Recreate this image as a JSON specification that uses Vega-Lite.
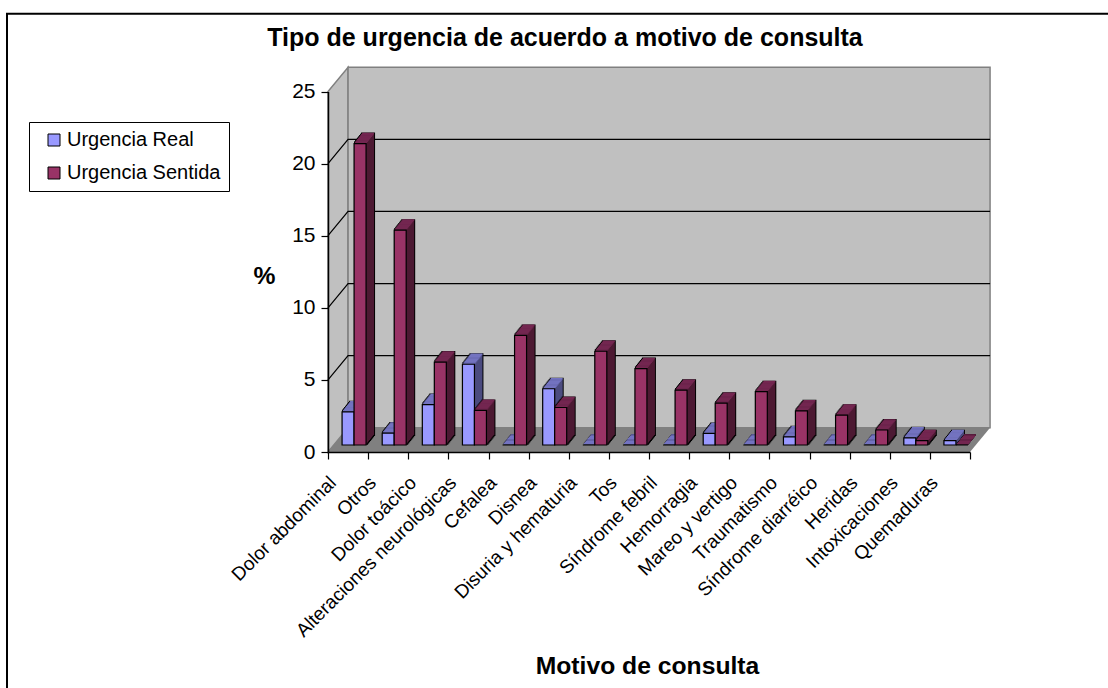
{"$schema":"https://vega.github.io/schema/vega-lite/v6.json","width":662,"height":384,"autosize":{"type":"none"},"padding":{"left":328,"top":68,"right":118,"bottom":236},"background":"white","config":{"font":"Liberation Sans","view":{"stroke":null},"axis":{"grid":false}},"title":{"text":"Tipo de urgencia de acuerdo a motivo de consulta","fontSize":25,"fontWeight":"bold","font":"Liberation Sans","color":"black","anchor":"middle","frame":"group","dx":-94,"dy":62,"offset":24},"datasets":{"wall":[{"part":"side","x":0,"y":0,"y2":25},{"part":"side","x":0.5,"y":1.68,"y2":26.68},{"part":"back","x":0.5,"y":1.68,"y2":26.68},{"part":"back","x":16.5,"y":1.68,"y2":26.68},{"part":"floor","x":0,"y":0,"y2":0},{"part":"floor","x":0.5,"y":0,"y2":1.68},{"part":"floor","x":16,"y":0,"y2":1.68},{"part":"floor","x":16.5,"y":1.68,"y2":1.68}],"grid":[{"g":5,"x":0,"y":5},{"g":5,"x":0.5,"y":6.68},{"g":5,"x":16.5,"y":6.68},{"g":10,"x":0,"y":10},{"g":10,"x":0.5,"y":11.68},{"g":10,"x":16.5,"y":11.68},{"g":15,"x":0,"y":15},{"g":15,"x":0.5,"y":16.68},{"g":15,"x":16.5,"y":16.68},{"g":20,"x":0,"y":20},{"g":20,"x":0.5,"y":21.68},{"g":20,"x":16.5,"y":21.68}],"bars":[{"motivo":"Dolor abdominal","serie":"Urgencia Real","v":2.3},{"motivo":"Dolor abdominal","serie":"Urgencia Sentida","v":20.9},{"motivo":"Otros","serie":"Urgencia Real","v":0.83},{"motivo":"Otros","serie":"Urgencia Sentida","v":14.9},{"motivo":"Dolor toácico","serie":"Urgencia Real","v":2.8},{"motivo":"Dolor toácico","serie":"Urgencia Sentida","v":5.75},{"motivo":"Alteraciones neurológicas","serie":"Urgencia Real","v":5.6},{"motivo":"Alteraciones neurológicas","serie":"Urgencia Sentida","v":2.4},{"motivo":"Cefalea","serie":"Urgencia Real","v":0},{"motivo":"Cefalea","serie":"Urgencia Sentida","v":7.6},{"motivo":"Disnea","serie":"Urgencia Real","v":3.9},{"motivo":"Disnea","serie":"Urgencia Sentida","v":2.6},{"motivo":"Disuria y hematuria","serie":"Urgencia Real","v":0},{"motivo":"Disuria y hematuria","serie":"Urgencia Sentida","v":6.5},{"motivo":"Tos","serie":"Urgencia Real","v":0},{"motivo":"Tos","serie":"Urgencia Sentida","v":5.3},{"motivo":"Síndrome febril","serie":"Urgencia Real","v":0},{"motivo":"Síndrome febril","serie":"Urgencia Sentida","v":3.8},{"motivo":"Hemorragia","serie":"Urgencia Real","v":0.8},{"motivo":"Hemorragia","serie":"Urgencia Sentida","v":2.9},{"motivo":"Mareo y vertigo","serie":"Urgencia Real","v":0},{"motivo":"Mareo y vertigo","serie":"Urgencia Sentida","v":3.7},{"motivo":"Traumatismo","serie":"Urgencia Real","v":0.57},{"motivo":"Traumatismo","serie":"Urgencia Sentida","v":2.37},{"motivo":"Síndrome diarréico","serie":"Urgencia Real","v":0},{"motivo":"Síndrome diarréico","serie":"Urgencia Sentida","v":2.07},{"motivo":"Heridas","serie":"Urgencia Real","v":0},{"motivo":"Heridas","serie":"Urgencia Sentida","v":1.04},{"motivo":"Intoxicaciones","serie":"Urgencia Real","v":0.5},{"motivo":"Intoxicaciones","serie":"Urgencia Sentida","v":0.3},{"motivo":"Quemaduras","serie":"Urgencia Real","v":0.3},{"motivo":"Quemaduras","serie":"Urgencia Sentida","v":0}]},"resolve":{"scale":{"x":"independent"},"axis":{"x":"independent"}},"layer":[
{"data":{"values":[{}]},"mark":{"type":"rect","fill":"white","stroke":"black","strokeWidth":2,"clip":false},"encoding":{"x":{"datum":-8,"type":"quantitative","scale":{"domain":[0,16],"range":[0,642]},"axis":null},"x2":{"datum":25},"y":{"datum":30.4,"type":"quantitative","scale":{"domain":[0,25],"range":[384,23.5]}},"y2":{"datum":-20}}},
{"data":{"name":"wall"},"transform":[{"filter":"datum.part==='side'"}],"mark":{"type":"area","fill":"#C0C0C0","stroke":"#808080","strokeWidth":1.5,"clip":false},"encoding":{"x":{"field":"x","type":"quantitative","scale":{"domain":[0,16],"range":[0,642]},"axis":null},"y":{"field":"y","type":"quantitative","scale":{"domain":[0,25],"range":[384,23.5]}},"y2":{"field":"y2"}}},
{"data":{"name":"wall"},"transform":[{"filter":"datum.part==='back'"}],"mark":{"type":"area","fill":"#C0C0C0","stroke":"#808080","strokeWidth":1.5,"clip":false},"encoding":{"x":{"field":"x","type":"quantitative","scale":{"domain":[0,16],"range":[0,642]},"axis":null},"y":{"field":"y","type":"quantitative","scale":{"domain":[0,25],"range":[384,23.5]}},"y2":{"field":"y2"}}},
{"data":{"name":"wall"},"transform":[{"filter":"datum.part==='floor'"}],"mark":{"type":"area","fill":"#808080","clip":false},"encoding":{"x":{"field":"x","type":"quantitative","scale":{"domain":[0,16],"range":[0,642]},"axis":null},"y":{"field":"y","type":"quantitative","scale":{"domain":[0,25],"range":[384,23.5]}},"y2":{"field":"y2"}}},
{"data":{"name":"grid"},"mark":{"type":"line","color":"black","strokeWidth":1.2,"clip":false},"encoding":{"x":{"field":"x","type":"quantitative","scale":{"domain":[0,16],"range":[0,642]},"axis":null},"y":{"field":"y","type":"quantitative","scale":{"domain":[0,25],"range":[384,23.5]}},"detail":{"field":"g"}}},
{"data":{"name":"bars"},"encoding":{"x":{"field":"motivo","type":"nominal","sort":null,"title":"Motivo de consulta","scale":{"range":[0,642],"paddingInner":0,"paddingOuter":0},"axis":{"zindex":1,"tickBand":"extent","labelAngle":-45,"labelAlign":"right","labelBaseline":"top","labelFontSize":19,"labelLimit":400,"labelColor":"black","labelPadding":14,"labelOffset":-22,"tickColor":"black","tickSize":7,"tickWidth":1.2,"domainColor":"black","domainWidth":1.5,"labelOverlap":false,"titleFontSize":24.7,"titleFontWeight":"bold","titleColor":"black","titleX":319,"titleY":221,"titleAlign":"center","titleBaseline":"alphabetic"}},"y":{"field":"v","type":"quantitative","title":"%","scale":{"domain":[0,25],"range":[384,23.5]},"axis":{"zindex":1,"values":[0,5,10,15,20,25],"grid":false,"labelFontSize":21,"labelColor":"black","labelPadding":6,"tickColor":"black","tickSize":7,"tickWidth":1.2,"domainColor":"black","domainWidth":1.5,"titleFontSize":24.7,"titleFontWeight":"bold","titleColor":"black","titleAngle":0,"titleX":-64,"titleY":215,"titleAlign":"center","titleBaseline":"alphabetic"}}},"layer":[
{"transform":[{"filter":"datum.serie==='Urgencia Real'"}],"layer":[
{"mark":{"type":"bar","width":12,"fill":"black","stroke":"black","strokeWidth":2,"xOffset":8,"yOffset":-17}},{"mark":{"type":"bar","width":12,"fill":"black","stroke":"black","strokeWidth":2,"xOffset":7,"yOffset":-15.75}},{"mark":{"type":"bar","width":12,"fill":"black","stroke":"black","strokeWidth":2,"xOffset":6,"yOffset":-14.5}},{"mark":{"type":"bar","width":12,"fill":"black","stroke":"black","strokeWidth":2,"xOffset":5,"yOffset":-13.25}},{"mark":{"type":"bar","width":12,"fill":"black","stroke":"black","strokeWidth":2,"xOffset":4,"yOffset":-12}},{"mark":{"type":"bar","width":12,"fill":"black","stroke":"black","strokeWidth":2,"xOffset":3,"yOffset":-10.75}},{"mark":{"type":"bar","width":12,"fill":"black","stroke":"black","strokeWidth":2,"xOffset":2,"yOffset":-9.5}},{"mark":{"type":"bar","width":12,"fill":"black","stroke":"black","strokeWidth":2,"xOffset":1,"yOffset":-8.25}},
{"mark":{"type":"bar","width":12,"fill":"#4C4C80","xOffset":8,"yOffset":-17}},{"mark":{"type":"bar","width":12,"fill":"#4C4C80","xOffset":7,"yOffset":-15.75}},{"mark":{"type":"bar","width":12,"fill":"#4C4C80","xOffset":6,"yOffset":-14.5}},{"mark":{"type":"bar","width":12,"fill":"#4C4C80","xOffset":5,"yOffset":-13.25}},{"mark":{"type":"bar","width":12,"fill":"#4C4C80","xOffset":4,"yOffset":-12}},{"mark":{"type":"bar","width":12,"fill":"#4C4C80","xOffset":3,"yOffset":-10.75}},{"mark":{"type":"bar","width":12,"fill":"#4C4C80","xOffset":2,"yOffset":-9.5}},{"mark":{"type":"bar","width":12,"fill":"#4C4C80","xOffset":1,"yOffset":-8.25}},
{"mark":{"type":"bar","width":12,"fill":"#7373C0","stroke":"#7373C0","strokeWidth":1.6,"xOffset":8,"yOffset":-17,"y2Offset":-17},"encoding":{"y2":{"field":"v"}}},{"mark":{"type":"bar","width":12,"fill":"#7373C0","stroke":"#7373C0","strokeWidth":1.6,"xOffset":7,"yOffset":-15.75,"y2Offset":-15.75},"encoding":{"y2":{"field":"v"}}},{"mark":{"type":"bar","width":12,"fill":"#7373C0","stroke":"#7373C0","strokeWidth":1.6,"xOffset":6,"yOffset":-14.5,"y2Offset":-14.5},"encoding":{"y2":{"field":"v"}}},{"mark":{"type":"bar","width":12,"fill":"#7373C0","stroke":"#7373C0","strokeWidth":1.6,"xOffset":5,"yOffset":-13.25,"y2Offset":-13.25},"encoding":{"y2":{"field":"v"}}},{"mark":{"type":"bar","width":12,"fill":"#7373C0","stroke":"#7373C0","strokeWidth":1.6,"xOffset":4,"yOffset":-12,"y2Offset":-12},"encoding":{"y2":{"field":"v"}}},{"mark":{"type":"bar","width":12,"fill":"#7373C0","stroke":"#7373C0","strokeWidth":1.6,"xOffset":3,"yOffset":-10.75,"y2Offset":-10.75},"encoding":{"y2":{"field":"v"}}},{"mark":{"type":"bar","width":12,"fill":"#7373C0","stroke":"#7373C0","strokeWidth":1.6,"xOffset":2,"yOffset":-9.5,"y2Offset":-9.5},"encoding":{"y2":{"field":"v"}}},{"mark":{"type":"bar","width":12,"fill":"#7373C0","stroke":"#7373C0","strokeWidth":1.6,"xOffset":1,"yOffset":-8.25,"y2Offset":-8.25},"encoding":{"y2":{"field":"v"}}}
,{"mark":{"type":"bar","width":12,"stroke":"black","strokeWidth":1.2,"xOffset":0,"yOffset":-7},"encoding":{"color":{"field":"serie","type":"nominal","scale":{"domain":["Urgencia Real","Urgencia Sentida"],"range":["#9999FF","#993366"]},"legend":{"title":null,"orient":"none","legendX":-299,"legendY":54,"fillColor":"white","strokeColor":"black","padding":8,"symbolType":"square","symbolSize":144,"symbolStrokeColor":"black","symbolStrokeWidth":1,"symbolOffset":7,"labelFontSize":20,"labelColor":"black","labelOffset":3,"rowPadding":13}}}}
]},
{"transform":[{"filter":"datum.serie==='Urgencia Sentida'"}],"layer":[
{"mark":{"type":"bar","width":12,"fill":"black","stroke":"black","strokeWidth":2,"xOffset":20,"yOffset":-17}},{"mark":{"type":"bar","width":12,"fill":"black","stroke":"black","strokeWidth":2,"xOffset":19,"yOffset":-15.75}},{"mark":{"type":"bar","width":12,"fill":"black","stroke":"black","strokeWidth":2,"xOffset":18,"yOffset":-14.5}},{"mark":{"type":"bar","width":12,"fill":"black","stroke":"black","strokeWidth":2,"xOffset":17,"yOffset":-13.25}},{"mark":{"type":"bar","width":12,"fill":"black","stroke":"black","strokeWidth":2,"xOffset":16,"yOffset":-12}},{"mark":{"type":"bar","width":12,"fill":"black","stroke":"black","strokeWidth":2,"xOffset":15,"yOffset":-10.75}},{"mark":{"type":"bar","width":12,"fill":"black","stroke":"black","strokeWidth":2,"xOffset":14,"yOffset":-9.5}},{"mark":{"type":"bar","width":12,"fill":"black","stroke":"black","strokeWidth":2,"xOffset":13,"yOffset":-8.25}},
{"mark":{"type":"bar","width":12,"fill":"#4D1A33","xOffset":20,"yOffset":-17}},{"mark":{"type":"bar","width":12,"fill":"#4D1A33","xOffset":19,"yOffset":-15.75}},{"mark":{"type":"bar","width":12,"fill":"#4D1A33","xOffset":18,"yOffset":-14.5}},{"mark":{"type":"bar","width":12,"fill":"#4D1A33","xOffset":17,"yOffset":-13.25}},{"mark":{"type":"bar","width":12,"fill":"#4D1A33","xOffset":16,"yOffset":-12}},{"mark":{"type":"bar","width":12,"fill":"#4D1A33","xOffset":15,"yOffset":-10.75}},{"mark":{"type":"bar","width":12,"fill":"#4D1A33","xOffset":14,"yOffset":-9.5}},{"mark":{"type":"bar","width":12,"fill":"#4D1A33","xOffset":13,"yOffset":-8.25}},
{"mark":{"type":"bar","width":12,"fill":"#732650","stroke":"#732650","strokeWidth":1.6,"xOffset":20,"yOffset":-17,"y2Offset":-17},"encoding":{"y2":{"field":"v"}}},{"mark":{"type":"bar","width":12,"fill":"#732650","stroke":"#732650","strokeWidth":1.6,"xOffset":19,"yOffset":-15.75,"y2Offset":-15.75},"encoding":{"y2":{"field":"v"}}},{"mark":{"type":"bar","width":12,"fill":"#732650","stroke":"#732650","strokeWidth":1.6,"xOffset":18,"yOffset":-14.5,"y2Offset":-14.5},"encoding":{"y2":{"field":"v"}}},{"mark":{"type":"bar","width":12,"fill":"#732650","stroke":"#732650","strokeWidth":1.6,"xOffset":17,"yOffset":-13.25,"y2Offset":-13.25},"encoding":{"y2":{"field":"v"}}},{"mark":{"type":"bar","width":12,"fill":"#732650","stroke":"#732650","strokeWidth":1.6,"xOffset":16,"yOffset":-12,"y2Offset":-12},"encoding":{"y2":{"field":"v"}}},{"mark":{"type":"bar","width":12,"fill":"#732650","stroke":"#732650","strokeWidth":1.6,"xOffset":15,"yOffset":-10.75,"y2Offset":-10.75},"encoding":{"y2":{"field":"v"}}},{"mark":{"type":"bar","width":12,"fill":"#732650","stroke":"#732650","strokeWidth":1.6,"xOffset":14,"yOffset":-9.5,"y2Offset":-9.5},"encoding":{"y2":{"field":"v"}}},{"mark":{"type":"bar","width":12,"fill":"#732650","stroke":"#732650","strokeWidth":1.6,"xOffset":13,"yOffset":-8.25,"y2Offset":-8.25},"encoding":{"y2":{"field":"v"}}}
,{"mark":{"type":"bar","width":12,"stroke":"black","strokeWidth":1.2,"xOffset":12,"yOffset":-7},"encoding":{"color":{"field":"serie","type":"nominal","scale":{"domain":["Urgencia Real","Urgencia Sentida"],"range":["#9999FF","#993366"]},"legend":{"title":null,"orient":"none","legendX":-299,"legendY":54,"fillColor":"white","strokeColor":"black","padding":8,"symbolType":"square","symbolSize":144,"symbolStrokeColor":"black","symbolStrokeWidth":1,"symbolOffset":7,"labelFontSize":20,"labelColor":"black","labelOffset":3,"rowPadding":13}}}}
]}
]}
]}
